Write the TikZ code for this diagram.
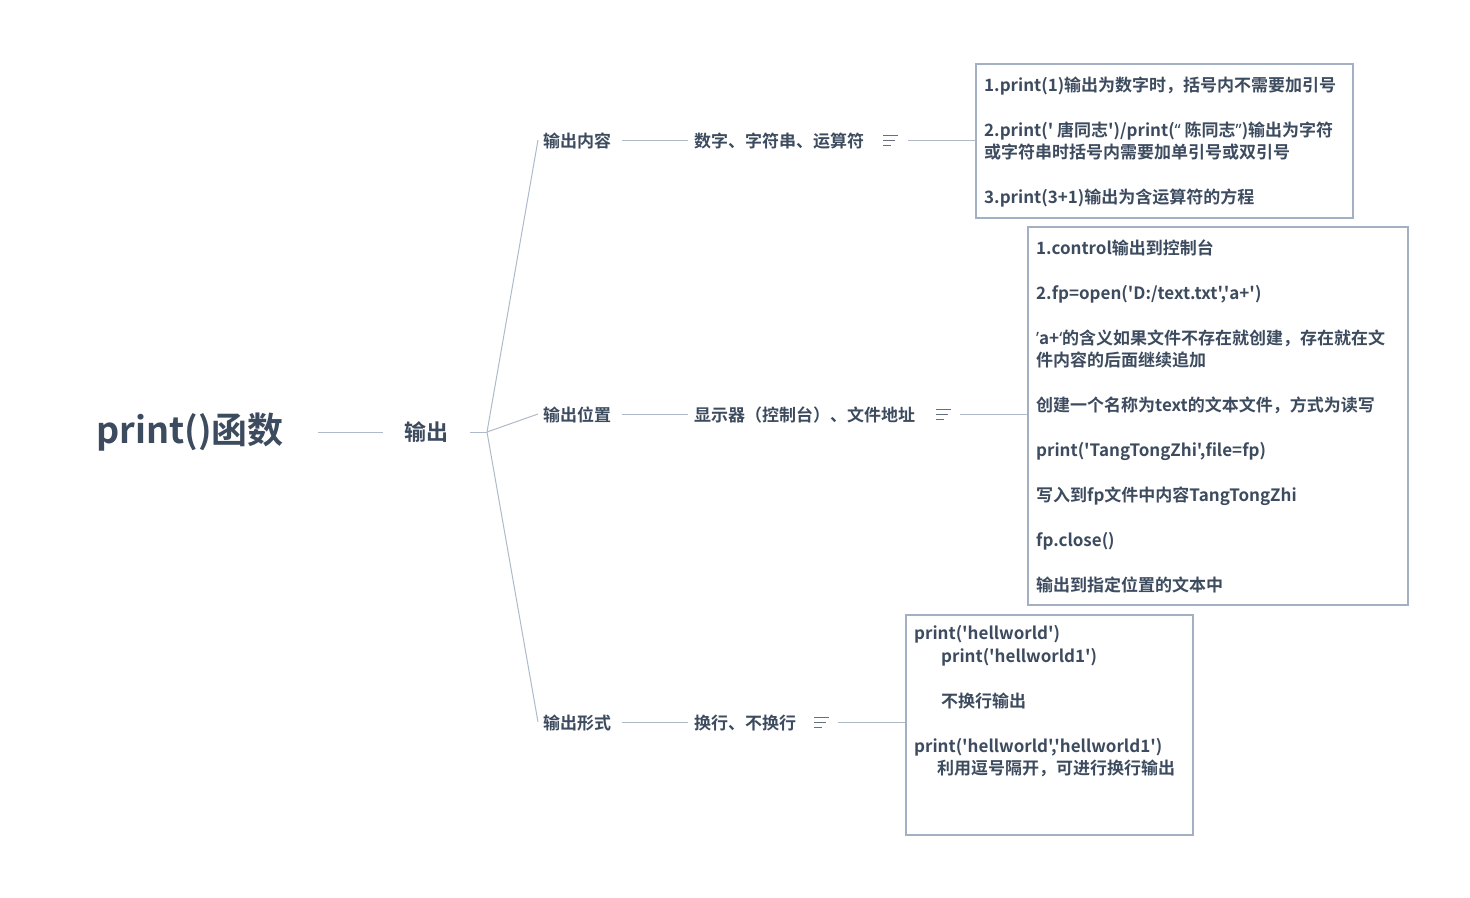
\documentclass[tikz,border=0pt]{standalone}
\usepackage{fontspec}
\newfontfamily\cjk{Noto Sans CJK SC}[BoldFont={Noto Sans CJK SC Bold}]
\newfontfamily\lat{Noto Sans}
\usetikzlibrary{calc}
\begin{document}
\begin{tikzpicture}[x=1pt,y=-1pt,
  every node/.style={text=txt,font=\cjk\bfseries\fontsize{17}{22.5}\selectfont,inner sep=0pt},
  conn/.style={draw=ln,line width=1pt},
  box/.style={draw=bx,line width=2pt,anchor=north west,fill=white},
  boxtext/.style={anchor=north west,align=left},
  lbl/.style={anchor=west}]
\definecolor{txt}{HTML}{3D4B5F}
\definecolor{ln}{HTML}{AEBACA}
\definecolor{bx}{HTML}{A3B0C4}
\useasboundingbox (0,0) rectangle (1470,897);
\newcommand{\noteicon}[1]{%
  \draw[txt!80,line width=1pt] ($(#1)+(-7,-5)$) -- ++(15,0) ($(#1)+(-7,0)$) -- ++(12,0) ($(#1)+(-7,5)$) -- ++(8,0);}
\node (root) at (190,432) {\fontsize{36}{40}\selectfont print()函数};
\node (out) at (426,432) {\fontsize{22}{26}\selectfont 输出};
\coordinate (j) at (487,432);
\draw[conn] (318,432) coordinate (r1) -- (383,432) coordinate (r2);
\draw[conn] (470,432) coordinate (o1) -- (j);
\node[lbl] (c1) at (543,141) {输出内容};
\node[lbl] (c2) at (543,415) {输出位置};
\node[lbl] (c3) at (543,723) {输出形式};
\draw[conn] (j) -- (538,140) coordinate (b1);
\draw[conn] (j) -- (538,414) coordinate (b2);
\draw[conn] (j) -- (538,722) coordinate (b3);
\node[lbl] (d1) at (694,141) {数字、字符串、运算符};
\node[lbl] (d2) at (694,415) {显示器（控制台）、文件地址};
\node[lbl] (d3) at (694,723) {换行、不换行};
\draw[conn] (622,140) -- (688,140);
\draw[conn] (622,414) -- (688,414);
\draw[conn] (622,722) -- (688,722);
\coordinate (i1) at (890,140); \coordinate (i2) at (943,414); \coordinate (i3) at (821,722);
\noteicon{i1}\noteicon{i2}\noteicon{i3}
\node[box,minimum width=377,minimum height=154] (B1) at (975,63) {};
\node[box,minimum width=380,minimum height=378] (B2) at (1027,226) {};
\node[box,minimum width=287,minimum height=220] (B3) at (905,614) {};
\draw[conn] (908,140) -- (B1.west|-0,140);
\draw[conn] (960,414) -- (B2.west|-0,414);
\draw[conn] (838,722) -- (B3.west|-0,722);
\node[boxtext] (T1) at (984,76.5) {1.print(1)输出为数字时，括号内不需要加引号\\[22.5pt]2.print(' 唐同志')/print({\lat“} 陈同志{\lat”})输出为字符\\或字符串时括号内需要加单引号或双引号\\[22.5pt]3.print(3+1)输出为含运算符的方程};
\node[boxtext] (T2) at (1036,239.5) {1.control输出到控制台\\[22.5pt]2.fp=open('D:/text.txt','a+')\\[22.5pt]{\lat’}a+{\lat‘}的含义如果文件不存在就创建，存在就在文\\件内容的后面继续追加\\[22.5pt]创建一个名称为text的文本文件，方式为读写\\[22.5pt]print('TangTongZhi',file=fp)\\[22.5pt]写入到fp文件中内容TangTongZhi\\[22.5pt]fp.close()\\[22.5pt]输出到指定位置的文本中};
\node[boxtext] (T3) at (914,625.5) {print('hellworld')\\\hspace{27pt}print('hellworld1')\\[22.5pt]\hspace{27pt}不换行输出\\[22.5pt]print('hellworld','hellworld1')\\\hspace{23pt}利用逗号隔开，可进行换行输出};
\end{tikzpicture}
\end{document}
